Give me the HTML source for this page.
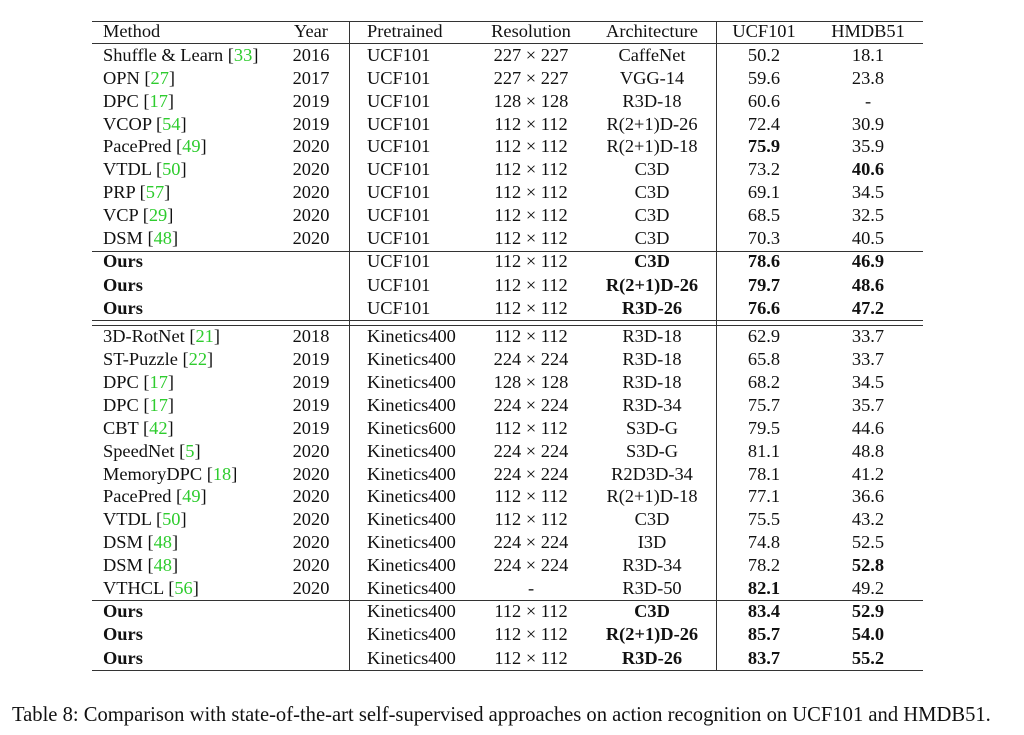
<!DOCTYPE html>
<html><head><meta charset="utf-8"><style>
body{margin:0;width:1024px;height:735px;background:#fff;position:relative;overflow:hidden;font-family:"Liberation Serif",serif;font-size:18.4px;color:#111}
.r{position:absolute;left:0;width:1024px;height:22px;line-height:22px}
.r span{position:absolute;top:0;white-space:nowrap}
.c1{left:103px}.c2{left:280px;width:62px;text-align:center}.c3{left:367px}
.c4{left:470px;width:122px;text-align:center}.c5{left:592px;width:120px;text-align:center}
.c6{left:720px;width:88px;text-align:center}.c7{left:820px;width:96px;text-align:center}
.h{position:absolute;left:92px;width:831px;height:1px;background:#333}
.v{position:absolute;width:1px;background:#333}
g{color:#2ecc2e}b{font-weight:bold}
.cap{position:absolute;left:12px;top:702px;font-size:20.6px;line-height:26px;white-space:nowrap}
</style></head><body>
<div class="h" style="top:21px"></div>
<div class="h" style="top:43px"></div>
<div class="h" style="top:251px"></div>
<div class="h" style="top:320px"></div>
<div class="h" style="top:325px"></div>
<div class="h" style="top:600px"></div>
<div class="h" style="top:670px"></div>
<div class="v" style="left:349px;top:21px;height:650px"></div>
<div class="v" style="left:716px;top:21px;height:650px"></div>

<div class="r" style="top:20px"><span class="c1">Method</span><span class="c2">Year</span><span class="c3">Pretrained</span><span class="c4">Resolution</span><span class="c5">Architecture</span><span class="c6">UCF101</span><span class="c7">HMDB51</span></div>

<div class="r" style="top:44px"><span class="c1">Shuffle &amp; Learn [<g>33</g>]</span><span class="c2">2016</span><span class="c3">UCF101</span><span class="c4">227 × 227</span><span class="c5">CaffeNet</span><span class="c6">50.2</span><span class="c7">18.1</span></div>
<div class="r" style="top:67px"><span class="c1">OPN [<g>27</g>]</span><span class="c2">2017</span><span class="c3">UCF101</span><span class="c4">227 × 227</span><span class="c5">VGG-14</span><span class="c6">59.6</span><span class="c7">23.8</span></div>
<div class="r" style="top:90px"><span class="c1">DPC [<g>17</g>]</span><span class="c2">2019</span><span class="c3">UCF101</span><span class="c4">128 × 128</span><span class="c5">R3D-18</span><span class="c6">60.6</span><span class="c7">-</span></div>
<div class="r" style="top:113px"><span class="c1">VCOP [<g>54</g>]</span><span class="c2">2019</span><span class="c3">UCF101</span><span class="c4">112 × 112</span><span class="c5">R(2+1)D-26</span><span class="c6">72.4</span><span class="c7">30.9</span></div>
<div class="r" style="top:135px"><span class="c1">PacePred [<g>49</g>]</span><span class="c2">2020</span><span class="c3">UCF101</span><span class="c4">112 × 112</span><span class="c5">R(2+1)D-18</span><span class="c6"><b>75.9</b></span><span class="c7">35.9</span></div>
<div class="r" style="top:158px"><span class="c1">VTDL [<g>50</g>]</span><span class="c2">2020</span><span class="c3">UCF101</span><span class="c4">112 × 112</span><span class="c5">C3D</span><span class="c6">73.2</span><span class="c7"><b>40.6</b></span></div>
<div class="r" style="top:181px"><span class="c1">PRP [<g>57</g>]</span><span class="c2">2020</span><span class="c3">UCF101</span><span class="c4">112 × 112</span><span class="c5">C3D</span><span class="c6">69.1</span><span class="c7">34.5</span></div>
<div class="r" style="top:204px"><span class="c1">VCP [<g>29</g>]</span><span class="c2">2020</span><span class="c3">UCF101</span><span class="c4">112 × 112</span><span class="c5">C3D</span><span class="c6">68.5</span><span class="c7">32.5</span></div>
<div class="r" style="top:227px"><span class="c1">DSM [<g>48</g>]</span><span class="c2">2020</span><span class="c3">UCF101</span><span class="c4">112 × 112</span><span class="c5">C3D</span><span class="c6">70.3</span><span class="c7">40.5</span></div>

<div class="r" style="top:250px"><span class="c1"><b>Ours</b></span><span class="c3">UCF101</span><span class="c4">112 × 112</span><span class="c5"><b>C3D</b></span><span class="c6"><b>78.6</b></span><span class="c7"><b>46.9</b></span></div>
<div class="r" style="top:274px"><span class="c1"><b>Ours</b></span><span class="c3">UCF101</span><span class="c4">112 × 112</span><span class="c5"><b>R(2+1)D-26</b></span><span class="c6"><b>79.7</b></span><span class="c7"><b>48.6</b></span></div>
<div class="r" style="top:297px"><span class="c1"><b>Ours</b></span><span class="c3">UCF101</span><span class="c4">112 × 112</span><span class="c5"><b>R3D-26</b></span><span class="c6"><b>76.6</b></span><span class="c7"><b>47.2</b></span></div>

<div class="r" style="top:325px"><span class="c1">3D-RotNet [<g>21</g>]</span><span class="c2">2018</span><span class="c3">Kinetics400</span><span class="c4">112 × 112</span><span class="c5">R3D-18</span><span class="c6">62.9</span><span class="c7">33.7</span></div>
<div class="r" style="top:348px"><span class="c1">ST-Puzzle [<g>22</g>]</span><span class="c2">2019</span><span class="c3">Kinetics400</span><span class="c4">224 × 224</span><span class="c5">R3D-18</span><span class="c6">65.8</span><span class="c7">33.7</span></div>
<div class="r" style="top:371px"><span class="c1">DPC [<g>17</g>]</span><span class="c2">2019</span><span class="c3">Kinetics400</span><span class="c4">128 × 128</span><span class="c5">R3D-18</span><span class="c6">68.2</span><span class="c7">34.5</span></div>
<div class="r" style="top:394px"><span class="c1">DPC [<g>17</g>]</span><span class="c2">2019</span><span class="c3">Kinetics400</span><span class="c4">224 × 224</span><span class="c5">R3D-34</span><span class="c6">75.7</span><span class="c7">35.7</span></div>
<div class="r" style="top:417px"><span class="c1">CBT [<g>42</g>]</span><span class="c2">2019</span><span class="c3">Kinetics600</span><span class="c4">112 × 112</span><span class="c5">S3D-G</span><span class="c6">79.5</span><span class="c7">44.6</span></div>
<div class="r" style="top:440px"><span class="c1">SpeedNet [<g>5</g>]</span><span class="c2">2020</span><span class="c3">Kinetics400</span><span class="c4">224 × 224</span><span class="c5">S3D-G</span><span class="c6">81.1</span><span class="c7">48.8</span></div>
<div class="r" style="top:463px"><span class="c1">MemoryDPC [<g>18</g>]</span><span class="c2">2020</span><span class="c3">Kinetics400</span><span class="c4">224 × 224</span><span class="c5">R2D3D-34</span><span class="c6">78.1</span><span class="c7">41.2</span></div>
<div class="r" style="top:485px"><span class="c1">PacePred [<g>49</g>]</span><span class="c2">2020</span><span class="c3">Kinetics400</span><span class="c4">112 × 112</span><span class="c5">R(2+1)D-18</span><span class="c6">77.1</span><span class="c7">36.6</span></div>
<div class="r" style="top:508px"><span class="c1">VTDL [<g>50</g>]</span><span class="c2">2020</span><span class="c3">Kinetics400</span><span class="c4">112 × 112</span><span class="c5">C3D</span><span class="c6">75.5</span><span class="c7">43.2</span></div>
<div class="r" style="top:531px"><span class="c1">DSM [<g>48</g>]</span><span class="c2">2020</span><span class="c3">Kinetics400</span><span class="c4">224 × 224</span><span class="c5">I3D</span><span class="c6">74.8</span><span class="c7">52.5</span></div>
<div class="r" style="top:554px"><span class="c1">DSM [<g>48</g>]</span><span class="c2">2020</span><span class="c3">Kinetics400</span><span class="c4">224 × 224</span><span class="c5">R3D-34</span><span class="c6">78.2</span><span class="c7"><b>52.8</b></span></div>
<div class="r" style="top:577px"><span class="c1">VTHCL [<g>56</g>]</span><span class="c2">2020</span><span class="c3">Kinetics400</span><span class="c4">-</span><span class="c5">R3D-50</span><span class="c6"><b>82.1</b></span><span class="c7">49.2</span></div>

<div class="r" style="top:600px"><span class="c1"><b>Ours</b></span><span class="c3">Kinetics400</span><span class="c4">112 × 112</span><span class="c5"><b>C3D</b></span><span class="c6"><b>83.4</b></span><span class="c7"><b>52.9</b></span></div>
<div class="r" style="top:623px"><span class="c1"><b>Ours</b></span><span class="c3">Kinetics400</span><span class="c4">112 × 112</span><span class="c5"><b>R(2+1)D-26</b></span><span class="c6"><b>85.7</b></span><span class="c7"><b>54.0</b></span></div>
<div class="r" style="top:647px"><span class="c1"><b>Ours</b></span><span class="c3">Kinetics400</span><span class="c4">112 × 112</span><span class="c5"><b>R3D-26</b></span><span class="c6"><b>83.7</b></span><span class="c7"><b>55.2</b></span></div>

<div class="cap">Table 8: Comparison with state-of-the-art self-supervised approaches on action recognition on UCF101 and HMDB51.</div>
</body></html>
